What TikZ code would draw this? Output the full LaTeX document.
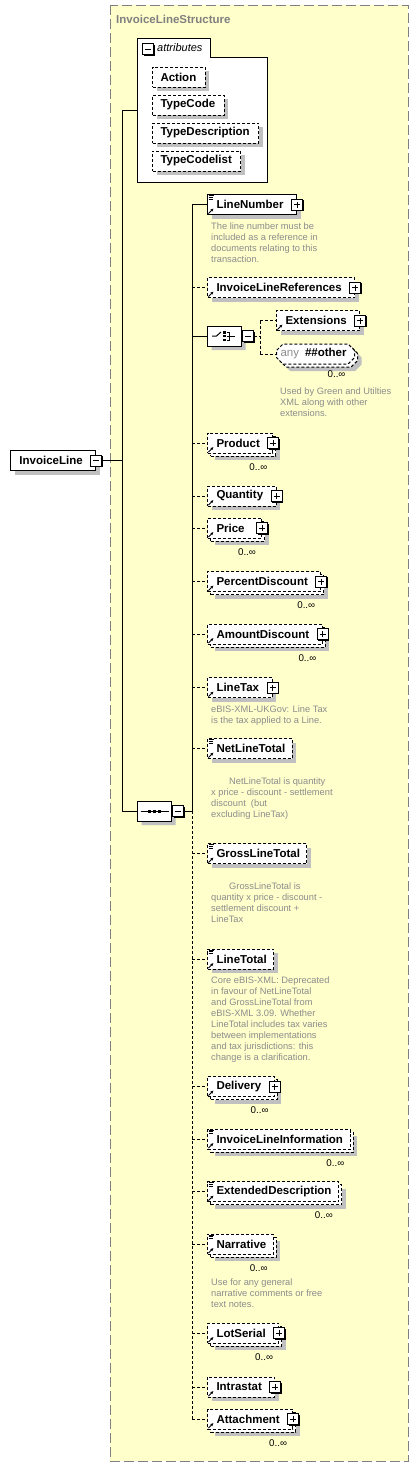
\documentclass[tikz,border=0pt]{standalone}
\usepackage{fontspec}
\setmainfont{Liberation Sans}
\usetikzlibrary{shapes.misc,shadows,arrows.meta,positioning}

\definecolor{schemabg}{RGB}{255,255,204}
\definecolor{framegray}{RGB}{128,128,128}
\definecolor{docgray}{RGB}{140,140,140}
\definecolor{shadegray}{RGB}{192,192,192}

\newcommand{\lblfont}{\fontsize{11.5}{13}\selectfont\bfseries}
\newcommand{\docfont}{\fontsize{9.3}{11}\selectfont}

\tikzset{
  rpad/.code={\def\elemrpad{#1}},
  lpad/.code={\def\elemlpad{#1}},
  elem/.style={draw, fill=white, line width=1pt, dash pattern=on 3pt off 2pt,
    minimum height=20pt, inner xsep=0pt, inner ysep=0pt, font=\lblfont,
    lpad=9pt, rpad=7pt,
    execute at begin node={\kern\elemlpad}, execute at end node={\kern\elemrpad}},
  req/.style={solid},
  hasplus/.style={rpad=13pt},
  one/.style={drop shadow={shadow xshift=4pt, shadow yshift=-4pt,
    fill=shadegray, draw=none, opacity=1}},
  many/.style={drop shadow={shadow xshift=7pt, shadow yshift=-7pt,
    fill=shadegray, draw=none, opacity=1},
    copy shadow={shadow xshift=3pt, shadow yshift=-3pt}},
  refd/.style={append after command={
    ([shift={(1.5pt,1.5pt)}]\tikzlastnode.south west)
      edge[solid, line width=0.8pt, -{Latex[length=3pt,width=3pt]}] ++(5pt,5pt)}},
  simple/.style={append after command={
    ([shift={(1.5pt,-1.5pt)}]\tikzlastnode.north west) edge[solid, line width=0.7pt] ++(5.5pt,0pt)
    ([shift={(1.5pt,-3.3pt)}]\tikzlastnode.north west) edge[solid, line width=0.7pt] ++(4pt,0pt)
    ([shift={(1.5pt,-5.1pt)}]\tikzlastnode.north west) edge[solid, line width=0.7pt] ++(4pt,0pt)}},
  sbox/.style={draw, solid, fill=white, line width=1pt, minimum size=11pt, inner sep=0pt,
    drop shadow={shadow xshift=1pt, shadow yshift=-1pt, fill=black, draw=none, opacity=1},
    append after command={
      ([xshift=-3pt]\tikzlastnode.center) edge[solid, line width=1pt] ([xshift=3pt]\tikzlastnode.center)}},
  pbox/.style={sbox, append after command={
      ([yshift=-3pt]\tikzlastnode.center) edge[solid, line width=1pt] ([yshift=3pt]\tikzlastnode.center)}},
  mbox/.style={sbox},
  attr/.style={elem, lpad=8pt, rpad=9pt, one},
  comp/.style={chamfered rectangle, chamfered rectangle xsep=5pt, draw, solid, fill=white,
    line width=1pt, inner sep=0pt, minimum width=34pt, minimum height=20pt, one},
  mult/.style={font=\fontsize{9.8}{11}\selectfont, inner sep=0pt, anchor=north east},
  doc/.style={font=\docfont, text=docgray, align=left, inner sep=0pt, anchor=north west},
  link/.style={line width=1pt},
  optlink/.style={line width=1pt, dash pattern=on 3pt off 2pt}
}

\begin{document}
\begin{tikzpicture}[x=1pt, y=-1pt]
\useasboundingbox (0,0) rectangle (419,1467);
\fill[white] (0,0) rectangle (419,1467);

% complex type frame
\draw[framegray, fill=schemabg, line width=1pt, dash pattern=on 10pt off 4pt] (110,5) rectangle (408,1461);
\node[anchor=west, font=\lblfont, text=framegray, inner sep=0pt] (typename) at (116,19) {InvoiceLineStructure};

% root element
\node[elem, req, hasplus, one, anchor=west] (il) at (10,460.5) {InvoiceLine};
\node[mbox] (ilm) at (il.east) {};

% attributes
\draw[line width=1pt, fill=white] (137,182) -- (137,38) -- (210,38) -- (210,57) -- (267,57) -- (267,182) -- cycle;
\node[mbox] (attm) at (148,49) {};
\node[anchor=west, inner sep=0pt, font=\fontsize{11}{13}\selectfont\itshape] (attlbl) at (157,48) {attributes};
\node[attr, anchor=west] (act) at (152,77) {Action};
\node[attr, anchor=west] (tcode) at (152,105) {TypeCode};
\node[attr, anchor=west] (tdesc) at (152,133) {TypeDescription};
\node[attr, anchor=west] (tlist) at (152,161) {TypeCodelist};
\coordinate (attin) at (137,110);

% sequence
\node[comp, anchor=west] (seq) at (137,811) {};
\node[mbox, anchor=west] (seqm) at (seq.east) {};
\draw[line width=1pt] ([shift={(-14,0)}]seq.center) -- ([shift={(14,0)}]seq.center);
\fill ([shift={(-6.5,-1.5)}]seq.center) rectangle ([shift={(-3.5,1.5)}]seq.center);
\fill ([shift={(-1.5,-1.5)}]seq.center) rectangle ([shift={(1.5,1.5)}]seq.center);
\fill ([shift={(3.5,-1.5)}]seq.center) rectangle ([shift={(6.5,1.5)}]seq.center);

% LineNumber
\node[elem, req, hasplus, one, refd, simple, anchor=west] (ln) at (207,204.5) {LineNumber};
\node[pbox] (lnp) at (ln.east) {};
\node[doc] (lndoc) at (211,223) {The line number must be\\included as a reference in\\documents relating to this\\transaction.};

% InvoiceLineReferences
\node[elem, hasplus, one, refd, anchor=west] (ilr) at (207,287.5) {InvoiceLineReferences};
\node[pbox] (ilrp) at (ilr.east) {};

% choice
\node[comp, anchor=west] (ch) at (207,336) {};
\node[mbox, anchor=west] (chm) at (ch.east) {};
\draw[line width=1pt] ([shift={(-12.5,0)}]ch.center) -- ([shift={(-8,0)}]ch.center) -- ([shift={(-3.5,-4)}]ch.center);
\fill ([shift={(-1.5,-5)}]ch.center) rectangle ([shift={(1,-2.5)}]ch.center);
\fill ([shift={(-1.5,-1.25)}]ch.center) rectangle ([shift={(1,1.25)}]ch.center);
\fill ([shift={(-1.5,2.5)}]ch.center) rectangle ([shift={(1,5)}]ch.center);
\draw[line width=0.8pt] ([shift={(2,-4)}]ch.center) -- ([shift={(5,-4)}]ch.center) -- ([shift={(5,4)}]ch.center) -- ([shift={(2,4)}]ch.center)
  ([shift={(2,0)}]ch.center) -- ([shift={(10,0)}]ch.center);
\coordinate (chj) at (260,336);

\node[elem, hasplus, one, refd, anchor=west] (ext) at (276,320.5) {Extensions};
\node[pbox] (extp) at (ext.east) {};
\node[elem, many, chamfered rectangle, chamfered rectangle xsep=3pt, lpad=1pt, rpad=5pt, anchor=west] (anyo) at (276,354)
  {\textcolor{docgray}{\mdseries any}\kern6pt\#\#other};
\node[mult] (anyom) at ([xshift=-6pt,yshift=-9pt]anyo.south east) {0..∞};
\node[doc] (extdoc) at (280,388) {Used by Green and Utilties\\XML along with other\\extensions.};

% Product .. LineTax
\node[elem, hasplus, many, refd, anchor=west] (prod) at (207,443) {Product};
\node[pbox] (prodp) at (prod.east) {};
\node[mult] (prodm) at ([xshift=-6pt,yshift=-9.5pt]prod.south east) {0..∞};

\node[elem, hasplus, one, refd, anchor=west] (qty) at (207,496) {Quantity};
\node[pbox] (qtyp) at (qty.east) {};

\node[elem, hasplus, many, refd, anchor=west] (price) at (207,528) {Price\kern4pt};
\node[pbox] (pricep) at (price.east) {};
\node[mult] (pricem) at ([xshift=-6pt,yshift=-9.5pt]price.south east) {0..∞};

\node[elem, hasplus, many, refd, anchor=west] (pdisc) at (207,581.5) {PercentDiscount};
\node[pbox] (pdiscp) at (pdisc.east) {};
\node[mult] (pdiscm) at ([xshift=-6pt,yshift=-9.5pt]pdisc.south east) {0..∞};

\node[elem, hasplus, many, refd, anchor=west] (adisc) at (207,634) {AmountDiscount};
\node[pbox] (adiscp) at (adisc.east) {};
\node[mult] (adiscm) at ([xshift=-6pt,yshift=-9.5pt]adisc.south east) {0..∞};

\node[elem, hasplus, one, refd, anchor=west] (ltax) at (207,687.5) {LineTax};
\node[pbox] (ltaxp) at (ltax.east) {};
\node[doc] (ltaxdoc) at (211,706) {eBIS-XML-UKGov: Line Tax\\is the tax applied to a Line.};

% totals
\node[elem, one, refd, simple, anchor=west] (nlt) at (207,748.5) {NetLineTotal};
\node[doc] (nltdoc) at (211,778) {\hspace*{18pt}NetLineTotal is quantity\\x price - discount - settlement\\discount \ (but\\excluding LineTax)};

\node[elem, one, refd, simple, anchor=west] (glt) at (207,853.5) {GrossLineTotal};
\node[doc] (gltdoc) at (211,883) {\hspace*{18pt}GrossLineTotal is\\quantity x price - discount -\\settlement discount +\\LineTax};

\node[elem, one, refd, simple, anchor=west] (lt) at (207,959) {LineTotal};
\node[doc] (ltdoc) at (211,977) {Core eBIS-XML: Deprecated\\in favour of NetLineTotal\\and GrossLineTotal from\\eBIS-XML 3.09. Whether\\LineTotal includes tax varies\\between implementations\\and tax jurisdictions: this\\change is a clarification.};

% Delivery .. Attachment
\node[elem, hasplus, many, refd, anchor=west] (deliv) at (207,1086.5) {Delivery};
\node[pbox] (delivp) at (deliv.east) {};
\node[mult] (delivm) at ([xshift=-6pt,yshift=-9.5pt]deliv.south east) {0..∞};

\node[elem, many, refd, simple, anchor=west] (ili) at (207,1139) {InvoiceLineInformation};
\node[mult] (ilim) at ([xshift=-6pt,yshift=-9.5pt]ili.south east) {0..∞};

\node[elem, many, refd, simple, anchor=west] (edesc) at (207,1191.5) {ExtendedDescription};
\node[mult] (edescm) at ([xshift=-6pt,yshift=-9.5pt]edesc.south east) {0..∞};

\node[elem, many, refd, simple, anchor=west] (narr) at (207,1244) {Narrative};
\node[mult] (narrm) at ([xshift=-6pt,yshift=-9.5pt]narr.south east) {0..∞};
\node[doc] (narrdoc) at (211,1279) {Use for any general\\narrative comments or free\\text notes.};

\node[elem, hasplus, many, refd, anchor=west] (lots) at (207,1333) {LotSerial};
\node[pbox] (lotsp) at (lots.east) {};
\node[mult] (lotsm) at ([xshift=-6pt,yshift=-9.5pt]lots.south east) {0..∞};

\node[elem, hasplus, one, refd, anchor=west] (intra) at (207,1387) {Intrastat};
\node[pbox] (intrap) at (intra.east) {};

\node[elem, hasplus, many, refd, anchor=west] (attach) at (207,1419) {Attachment};
\node[pbox] (attachp) at (attach.east) {};
\node[mult] (attachm) at ([xshift=-6pt,yshift=-9.5pt]attach.south east) {0..∞};

% connectors
\coordinate (spine) at (122,0);
\coordinate (trunk) at (192,0);
\draw[link] (ilm.east) -- (ilm.east -| spine);
\draw[link] (attin -| spine) -- (attin);
\draw[link] (attin -| spine) -- (seq.west -| spine) -- (seq.west);
\draw[link] (seqm.east) -- (seqm.east -| trunk);
\draw[link] (ln.west -| trunk) -- (seqm.east -| trunk);
\draw[optlink] (seqm.east -| trunk) -- (attach.west -| trunk);
\draw[link] (ln.west -| trunk) -- (ln.west);
\draw[link] (ch.west -| trunk) -- (ch.west);
\draw[optlink] (ilr.west -| trunk) -- (ilr.west);
\draw[optlink] (prod.west -| trunk) -- (prod.west);
\draw[optlink] (qty.west -| trunk) -- (qty.west);
\draw[optlink] (price.west -| trunk) -- (price.west);
\draw[optlink] (pdisc.west -| trunk) -- (pdisc.west);
\draw[optlink] (adisc.west -| trunk) -- (adisc.west);
\draw[optlink] (ltax.west -| trunk) -- (ltax.west);
\draw[optlink] (nlt.west -| trunk) -- (nlt.west);
\draw[optlink] (glt.west -| trunk) -- (glt.west);
\draw[optlink] (lt.west -| trunk) -- (lt.west);
\draw[optlink] (deliv.west -| trunk) -- (deliv.west);
\draw[optlink] (ili.west -| trunk) -- (ili.west);
\draw[optlink] (edesc.west -| trunk) -- (edesc.west);
\draw[optlink] (narr.west -| trunk) -- (narr.west);
\draw[optlink] (lots.west -| trunk) -- (lots.west);
\draw[optlink] (intra.west -| trunk) -- (intra.west);
\draw[optlink] (attach.west -| trunk) -- (attach.west);
\draw[optlink] (chm.east) -- (chj);
\draw[optlink] (ext.west -| chj) -- (anyo.west -| chj);
\draw[optlink] (ext.west -| chj) -- (ext.west);
\draw[optlink] (anyo.west -| chj) -- (anyo.west);
\end{tikzpicture}
\end{document}
